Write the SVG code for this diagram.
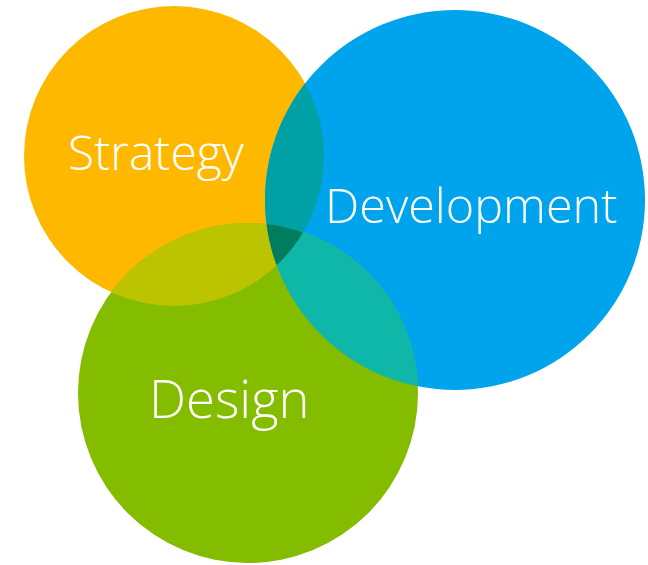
<svg xmlns="http://www.w3.org/2000/svg" width="648" height="565" viewBox="0 0 648 565">
<style>
.lbl{font-family:"Open Sans","Noto Sans","Liberation Sans",sans-serif;font-weight:300;fill:#ffffff}
</style>
<defs>
<clipPath id="cS"><circle cx="174" cy="156" r="150"/></clipPath>
<clipPath id="cV"><circle cx="455" cy="200" r="190"/></clipPath>
<clipPath id="cD"><circle cx="248" cy="393" r="170"/></clipPath>
</defs>
<rect width="648" height="565" fill="#ffffff"/>
<g id="strategy"><circle cx="174" cy="156" r="150" fill="#FFB800"/></g>
<g id="development"><circle cx="455" cy="200" r="190" fill="#00A4EC"/></g>
<g id="design"><circle cx="248" cy="393" r="170" fill="#84BC00"/></g>
<g id="overlaps">
<g clip-path="url(#cS)"><circle cx="455" cy="200" r="190" fill="#00A1A6"/></g>
<g clip-path="url(#cS)"><circle cx="248" cy="393" r="170" fill="#BCC400"/></g>
<g clip-path="url(#cV)"><circle cx="248" cy="393" r="170" fill="#0EB7A8"/></g>
<g clip-path="url(#cS)"><g clip-path="url(#cV)"><circle cx="248" cy="393" r="170" fill="#007D5E"/></g></g>
</g>
<g id="labels">
<text class="lbl" x="68" y="170" font-size="48">Strategy</text>
<text class="lbl" x="325" y="223" font-size="48.5">Development</text>
<text class="lbl" x="149" y="418" font-size="52.5">Design</text>
</g>
</svg>
